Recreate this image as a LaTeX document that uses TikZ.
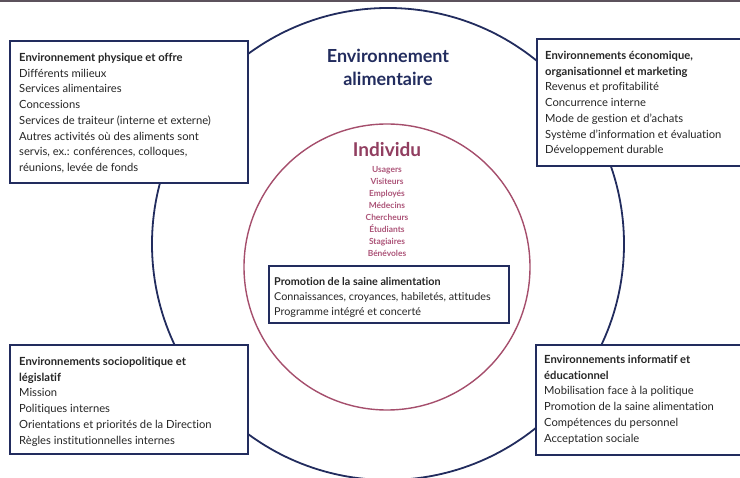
\documentclass[tikz,border=0pt]{standalone}
\usepackage{fontspec}
\setmainfont[Ligatures=NoCommon]{Lato}
\usepackage{tikz}
\usetikzlibrary{positioning}
\definecolor{envnavy}{RGB}{34,44,94}
\definecolor{indivrose}{RGB}{145,62,96}
\definecolor{listrose}{RGB}{172,84,120}
\definecolor{circrose}{RGB}{165,78,108}
\definecolor{topbar}{RGB}{92,82,92}
\tikzset{
  envbox/.style={rectangle, draw=envnavy, fill=white, line width=1.7pt,
    anchor=north west, inner sep=0pt},
  boxtext/.style={align=left, inner sep=0pt, anchor=north west,
    font=\fontsize{11.2}{15.7}\selectfont, color=black!85},
  smalltext/.style={align=left, inner sep=0pt, anchor=north west,
    font=\fontsize{10.8}{15}\selectfont, color=black!85},
  envcircle/.style={circle, draw=envnavy, line width=1.8pt, inner sep=0pt},
  indcircle/.style={circle, draw=circrose, line width=1.4pt, inner sep=0pt}
}

\begin{document}
\begin{tikzpicture}[x=1pt, y=-1pt]
  \clip (0,0) rectangle (740,478);
  \fill[topbar] (0,0) rectangle (740,2.5);

  % Circles
  \node[envcircle, minimum size=472pt] (envring) at (388,244) {};
  \node[indcircle, minimum size=286pt] (indring) at (387,267) {};

  % Titles
  \node[align=center, font=\fontsize{18}{23}\selectfont\bfseries, color=envnavy]
    (envtitle) at (388,67) {Environnement\\alimentaire};
  \node[font=\fontsize{19}{22}\selectfont\bfseries, color=indivrose]
    (indtitle) at (387,150) {Individu};
  \node[align=center, inner sep=0pt, font=\fontsize{8.4}{12}\selectfont\bfseries,
    color=listrose, below=6pt of indtitle] (indlist)
    {Usagers\\Visiteurs\\Employés\\Médecins\\Chercheurs\\Étudiants\\Stagiaires\\Bénévoles};

  % Top left box
  \node[envbox, minimum width=238pt, minimum height=142pt] (physbox) at (9,40) {};
  \node[boxtext, below right=13pt and 10pt of physbox.north west] (phystext)
    {\textbf{Environnement physique et offre}\\Différents milieux\\Services alimentaires\\Concessions\\
     Services de traiteur (interne et externe)\\Autres activités où des aliments sont\\
     servis, ex.: conférences, colloques,\\réunions, levée de fonds};

  % Top right box
  \node[envbox, minimum width=212pt, minimum height=127pt] (ecobox) at (536,38) {};
  \node[boxtext, below right=13pt and 9pt of ecobox.north west] (ecotext)
    {\textbf{Environnements économique,}\\\textbf{organisationnel et marketing}\\Revenus et profitabilité\\
     Concurrence interne\\Mode de gestion et d'achats\\Système d'information et évaluation\\
     Développement durable};

  % Bottom left box
  \node[envbox, minimum width=238pt, minimum height=109pt] (polbox) at (9,344) {};
  \node[boxtext, below right=13pt and 10pt of polbox.north west] (poltext)
    {\textbf{Environnements sociopolitique et}\\\textbf{législatif}\\Mission\\Politiques internes\\
     Orientations et priorités de la Direction\\Règles institutionnelles internes};

  % Bottom right box
  \node[envbox, minimum width=212pt, minimum height=110pt] (infobox) at (535,344) {};
  \node[boxtext, below right=11pt and 9pt of infobox.north west] (infotext)
    {\textbf{Environnements informatif et}\\\textbf{éducationnel}\\Mobilisation face à la politique\\
     Promotion de la saine alimentation\\Compétences du personnel\\Acceptation sociale};

  % Centre box
  \node[envbox, minimum width=240pt, minimum height=57pt] (promobox) at (268,265) {};
  \node[smalltext, below right=12pt and 6pt of promobox.north west] (promotext)
    {\textbf{Promotion de la saine alimentation}\\Connaissances, croyances, habiletés, attitudes\\
     Programme intégré et concerté};
\end{tikzpicture}
\end{document}
